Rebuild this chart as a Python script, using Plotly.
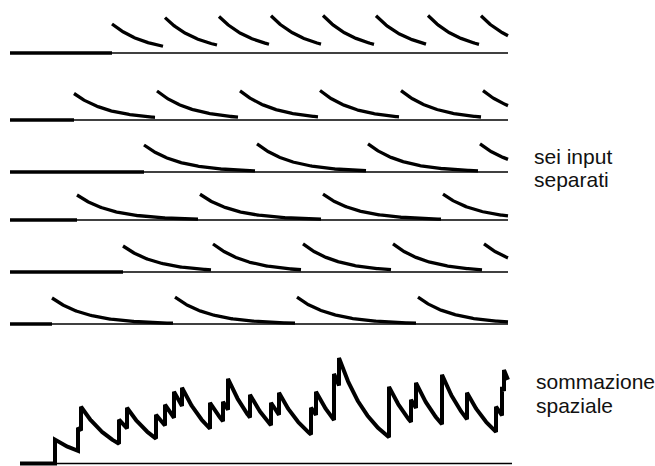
import numpy as np
import plotly.graph_objects as go

# ---------------- data (time in ms, potential in mV) ----------------
TAU_MS = 35.0
INPUT_END_MS = 498.0

# spike arrival times for the six separate inputs
input1_spikes = [102, 155, 209, 261, 313, 366, 418, 471]
input2_spikes = [64, 147, 230, 310, 391, 473]
input3_spikes = [134, 247, 358, 470]
input4_spikes = [67, 190, 313, 433]
input5_spikes = [113, 203, 293, 383, 474]
input6_spikes = [42, 165, 287, 408]
input_spikes = [input1_spikes, input2_spikes, input3_spikes,
                input4_spikes, input5_spikes, input6_spikes]
# single-EPSP amplitude of each input (mV)
input_amplitude = [2.9, 2.65, 2.7, 2.5, 2.6, 2.6]

# spatial summation trace: event times (ms) and peak potential after each event (mV)
SUM_START_MS = 10.0
SUM_END_MS = 498.0
SUM_TAU_MS = 36.0
sum_times = [45, 68, 71, 109, 117, 146, 155, 164, 172, 200, 213, 218, 240,
             261, 269, 301, 306, 324, 329, 379, 401, 406, 432, 457, 486, 492, 494]
sum_peaks = [2.4, 3.6, 5.7, 4.4, 5.6, 4.9, 5.9, 7.2, 7.6, 6.1, 6.2, 8.5, 6.9,
             6.1, 7.1, 5.6, 7.2, 9.0, 10.6, 7.7, 6.4, 8.1, 8.9, 7.1, 5.7, 7.7, 9.4]

label_inputs = ["sei input", "separati"]
label_sum = ["sommazione", "spaziale"]

# ---------------- layout constants (pixels) ----------------
W, H = 655, 466
X0_PX = 10                      # pixel of t = 0 ms, 1 px per ms
ROW_BASELINE_PX = [53, 120, 172, 220, 272, 324]
SUM_BASELINE_PX = 464
PX_PER_MV = 10.0
INK = "#000000"

fig = go.Figure()

def ydomain(baseline_px, lo_mv, hi_mv):
    bottom = H - (baseline_px + lo_mv * PX_PER_MV)
    top = bottom + (lo_mv + hi_mv) * PX_PER_MV
    return [max(0.0, bottom / H), min(1.0, top / H)]

# ---------------- six separate inputs ----------------
for r, (spikes, amp) in enumerate(zip(input_spikes, input_amplitude)):
    yname = "y" if r == 0 else f"y{r+1}"
    # thin baseline across the whole trace
    fig.add_trace(go.Scatter(x=[0, INPUT_END_MS], y=[0, 0], mode="lines",
                             line=dict(color=INK, width=1.4), yaxis=yname,
                             hoverinfo="skip", showlegend=False))
    xs, ys = [0, spikes[0]], [0, 0]
    xs.append(None); ys.append(None)
    bounds = list(spikes[1:]) + [INPUT_END_MS + 1.5]
    for i, t0 in enumerate(spikes):
        t1 = bounds[i] - 1.5
        tt = np.arange(t0, t1 + 1e-9, 1.0)
        v = np.zeros_like(tt, dtype=float)
        for s in spikes[:i + 1]:
            v += amp * np.exp(-(tt - s) / TAU_MS)
        xs.extend(tt.tolist()); ys.extend(v.tolist())
        xs.append(None); ys.append(None)
    fig.add_trace(go.Scatter(x=xs, y=ys, mode="lines",
                             line=dict(color=INK, width=3.3), yaxis=yname,
                             connectgaps=False, hoverinfo="skip", showlegend=False))
    ax = "yaxis" if r == 0 else f"yaxis{r+1}"
    fig.layout[ax] = dict(domain=ydomain(ROW_BASELINE_PX[r], 0.4, 4.0),
                          range=[-0.4, 4.0], visible=False, fixedrange=True,
                          anchor="x")

# ---------------- spatial summation ----------------
sx, sy = [SUM_START_MS, sum_times[0]], [0.0, 0.0]
ends = sum_times[1:] + [SUM_END_MS]
for t0, p, t1 in zip(sum_times, sum_peaks, ends):
    tt = np.arange(t0, t1 + 1e-9, 0.5)
    v = p * np.exp(-(tt - t0) / SUM_TAU_MS)
    sx.extend(tt.tolist()); sy.extend(v.tolist())
fig.add_trace(go.Scatter(x=[SUM_START_MS, SUM_END_MS + 4], y=[0, 0], mode="lines",
                         line=dict(color=INK, width=1.4), yaxis="y7",
                         hoverinfo="skip", showlegend=False))
fig.add_trace(go.Scatter(x=sx, y=sy, mode="lines",
                         line=dict(color=INK, width=4), yaxis="y7",
                         hoverinfo="skip", showlegend=False))
fig.layout["yaxis7"] = dict(domain=ydomain(SUM_BASELINE_PX, 0.25, 12.0),
                            range=[-0.25, 12.0], visible=False, fixedrange=True,
                            anchor="x")

fig.update_layout(
    xaxis=dict(range=[-X0_PX, W - X0_PX], visible=False, fixedrange=True,
               domain=[0, 1]),
    width=W, height=H, autosize=False,
    margin=dict(l=0, r=0, t=0, b=0, pad=0),
    paper_bgcolor="white", plot_bgcolor="white",
    showlegend=False,
)

def label(text, x_px, top_px):
    fig.add_annotation(text=text, xref="paper", yref="paper",
                       x=x_px / W, y=1 - top_px / H, xanchor="left", yanchor="top",
                       showarrow=False, align="left",
                       font=dict(family="Liberation Sans, Arial, sans-serif",
                                 size=21, color="#111111"))

label(label_inputs[0], 532, 143)
label(label_inputs[1], 532, 166.5)
label(label_sum[0], 534, 368)
label(label_sum[1], 534, 391.5)

fig.write_html("out.html", config={"displayModeBar": False})
